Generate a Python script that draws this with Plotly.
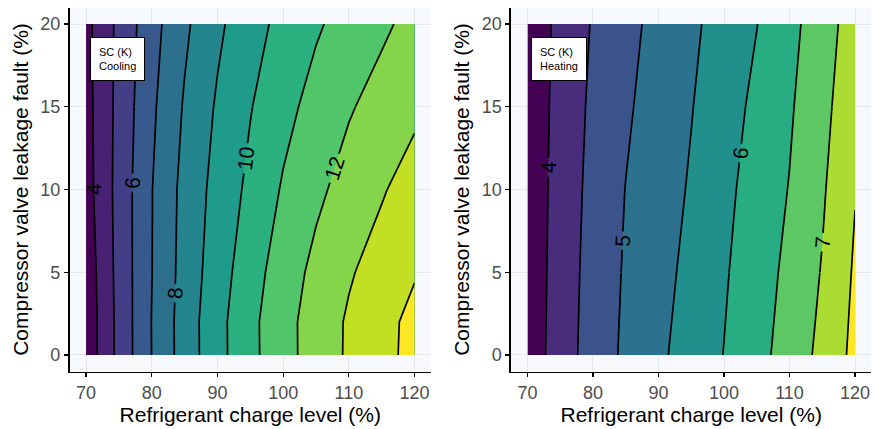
import plotly.graph_objects as go

# ---------------- data ----------------
charge_levels = [70, 75, 80, 85, 90, 95, 100, 105, 110, 115, 120]
leak_cool = [0, 2, 5, 10, 15, 20]
leak_heat = [0, 5, 10, 15, 20]

sc_cool_y0 = [3.34, 5.28, 7.01, 8.45, 9.67, 10.74, 11.65, 12.44, 13.13, 13.71, 14.29]
sc_cool_y2 = [3.34, 5.28, 7.02, 8.46, 9.68, 10.75, 11.66, 12.44, 13.12, 13.70, 14.26]
sc_cool_y5 = [3.41, 5.32, 6.98, 8.38, 9.53, 10.58, 11.49, 12.26, 12.90, 13.42, 13.93]
sc_cool_y10 = [3.60, 5.34, 6.97, 8.31, 9.34, 10.23, 11.10, 11.79, 12.38, 12.91, 13.45]
sc_cool_y15 = [3.66, 5.29, 6.82, 8.10, 9.12, 9.95, 10.70, 11.34, 11.91, 12.36, 12.79]
sc_cool_y20 = [3.71, 5.24, 6.63, 7.82, 8.81, 9.61, 10.29, 10.88, 11.37, 11.83, 12.29]

sc_heat_y0 = [3.69, 4.25, 4.72, 5.09, 5.41, 5.71, 6.01, 6.34, 6.71, 7.13, 7.63]
sc_heat_y5 = [3.68, 4.22, 4.69, 5.05, 5.34, 5.63, 5.95, 6.27, 6.62, 7.03, 7.56]
sc_heat_y10 = [3.68, 4.19, 4.65, 5.01, 5.27, 5.55, 5.88, 6.20, 6.52, 6.94, 7.48]
sc_heat_y15 = [3.68, 4.16, 4.60, 4.93, 5.22, 5.48, 5.79, 6.11, 6.44, 6.87, 7.31]
sc_heat_y20 = [3.68, 4.12, 4.54, 4.86, 5.14, 5.41, 5.69, 5.99, 6.35, 6.78, 7.23]

x_ticks = [70, 80, 90, 100, 110, 120]
y_ticks = [0, 5, 10, 15, 20]

z_cool = [sc_cool_y0, sc_cool_y2, sc_cool_y5, sc_cool_y10, sc_cool_y15, sc_cool_y20]
z_heat = [sc_heat_y0, sc_heat_y5, sc_heat_y10, sc_heat_y15, sc_heat_y20]

# ---------------- style ----------------
vir12 = ["#440154", "#482173", "#433E85", "#38598C", "#2D708E", "#25858E",
         "#1E9B8A", "#2BB07F", "#51C56A", "#85D54A", "#C2DF23", "#FDE725"]
vir9 = ["#440154", "#472D7B", "#3B528B", "#2C728E", "#21908C", "#27AD81",
        "#5DC863", "#AADC32", "#FDE725"]


def scale(cols):
    n = len(cols) - 1
    return [[i / n, c] for i, c in enumerate(cols)]


FONT = "Liberation Sans, Arial, sans-serif"
LW = 1.7
LABEL_SIZE = 21


def base(yv, z, xa, ya):
    return dict(x=charge_levels, y=yv, z=z, xaxis=xa, yaxis=ya, showscale=False,
                hoverinfo="skip", autocontour=False)


def fill_trace(yv, z, xa, ya, start, end, size, cols):
    return go.Contour(**base(yv, z, xa, ya),
                      contours=dict(coloring="fill", start=start, end=end, size=size,
                                    showlines=False),
                      colorscale=scale(cols), line=dict(width=0, smoothing=0))


def line_trace(yv, z, xa, ya, start, end, size, labels=False):
    c = dict(coloring="none", start=start, end=end, size=size)
    if labels:
        c.update(showlabels=True, labelfont=dict(size=LABEL_SIZE, color="black", family=FONT))
    return go.Contour(**base(yv, z, xa, ya), contours=c,
                      line=dict(color="black", width=LW, smoothing=0))


def crossing(row, level):
    # x where a data row reaches the given contour level
    for i in range(len(row) - 1):
        a, b = row[i], row[i + 1]
        if (a - level) * (b - level) <= 0 and a != b:
            return charge_levels[i] + (level - a) / (b - a) * (charge_levels[i + 1] - charge_levels[i])
    return None


fig = go.Figure()

# Cooling panel
fig.add_trace(fill_trace(leak_cool, z_cool, "x", "y", 4, 14, 1, vir12))
fig.add_trace(line_trace(leak_cool, z_cool, "x", "y", 5, 13, 2))
fig.add_trace(line_trace(leak_cool, z_cool, "x", "y", 14, 16, 2))
fig.add_trace(line_trace(leak_cool, z_cool, "x", "y", 4, 4, 2))
fig.add_trace(line_trace(leak_cool[:2], z_cool[:2], "x", "y", 6, 12, 2))
fig.add_trace(line_trace(leak_cool[1:5], z_cool[1:5], "x", "y", 6, 12, 2, labels=True))
fig.add_trace(line_trace(leak_cool[4:], z_cool[4:], "x", "y", 6, 12, 2))

# Heating panel
fig.add_trace(fill_trace(leak_heat, z_heat, "x2", "y2", 4, 7.5, 0.5, vir9))
fig.add_trace(line_trace(leak_heat, z_heat, "x2", "y2", 4.5, 7.5, 1))
fig.add_trace(line_trace(leak_heat[:2], z_heat[:2], "x2", "y2", 4, 7, 1))
fig.add_trace(line_trace(leak_heat[1:4], z_heat[1:4], "x2", "y2", 4, 7, 1, labels=True))
fig.add_trace(line_trace(leak_heat[3:], z_heat[3:], "x2", "y2", 4, 7, 1))

axis_common = dict(showline=True, linecolor="black", linewidth=1.8, ticks="outside",
                   ticklen=4, tickwidth=1.2, tickcolor="black", showgrid=True,
                   gridcolor="#E6E7EC", gridwidth=1, zeroline=False,
                   tickfont=dict(size=18, color="#4D4D4D", family=FONT))
xt = dict(text="Refrigerant charge level (%)", font=dict(size=21, color="black", family=FONT),
          standoff=3)
yt = dict(text="Compressor valve leakage fault (%)", font=dict(size=21, color="black", family=FONT),
          standoff=6)

fig.update_layout(
    width=875, height=429,
    margin=dict(l=0, r=0, t=0, b=0),
    paper_bgcolor="white", plot_bgcolor="#F8F9FC",
    font=dict(family=FONT),
    showlegend=False,
    xaxis=dict(domain=[0.07954, 0.49257], range=[67.5, 122.5], tickvals=x_ticks,
               anchor="y", title=xt, **axis_common),
    yaxis=dict(domain=[0.134, 0.9825], range=[-1, 21], tickvals=y_ticks,
               anchor="x", title=yt, **axis_common),
    xaxis2=dict(domain=[0.58411, 0.99589], range=[67.5, 122.5], tickvals=x_ticks,
                anchor="y2", title=xt, **axis_common),
    yaxis2=dict(domain=[0.134, 0.9825], range=[-1, 21], tickvals=y_ticks,
                anchor="x2", title=yt, **axis_common),
)

# label for the 4 K cooling contour (too close to the edge for automatic labels)
fig.add_annotation(text="4", x=crossing(sc_cool_y10, 4), y=leak_cool[3], xref="x", yref="y",
                   showarrow=False, textangle=-90,
                   font=dict(size=LABEL_SIZE, color="black", family=FONT))

box = dict(showarrow=False, align="left", bgcolor="white", bordercolor="black",
           borderwidth=1, borderpad=8, font=dict(size=11, color="black", family=FONT),
           xanchor="left", yanchor="top")
fig.add_annotation(text="SC (K)<br>Cooling", xref="x domain", yref="y domain",
                   x=0.056, y=0.919, **box)
fig.add_annotation(text="SC (K)<br>Heating", xref="x2 domain", yref="y2 domain",
                   x=0.056, y=0.919, **box)

fig.write_html("out.html", config={"displayModeBar": False, "staticPlot": True},
               post_script="document.body.style.margin='0';document.body.style.overflow='hidden';")
